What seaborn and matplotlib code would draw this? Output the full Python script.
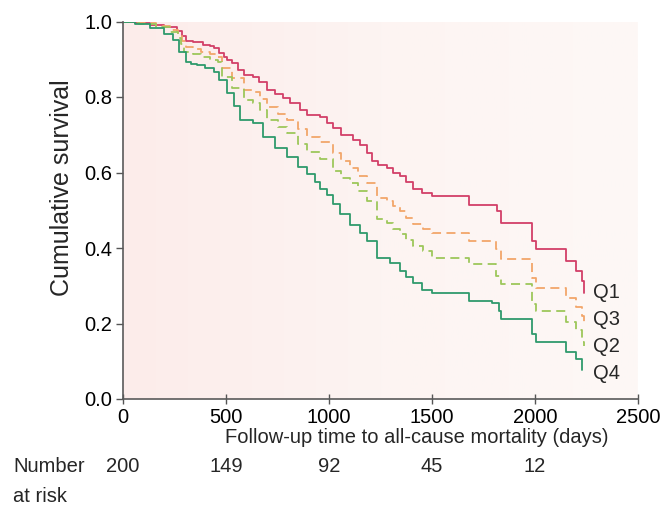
import numpy as np
import pandas as pd
import seaborn as sns
import matplotlib.pyplot as plt
import matplotlib.transforms as mtransforms
from matplotlib.colors import LinearSegmentedColormap

# Kaplan-Meier style curves (days, cumulative survival)
q1_days = [0, 60, 130, 200, 264, 285, 304, 340, 390, 420, 440, 464, 490, 507, 530, 560, 585, 633,
           660, 700, 740, 778, 810, 860, 894, 957, 990, 1019, 1060, 1116, 1150, 1184, 1208, 1240,
           1280, 1310, 1343, 1375, 1406, 1450, 1502, 1681, 1816, 1836, 1985, 2005, 2150, 2198,
           2227, 2237]
q1_surv = [1.0, 0.996, 0.99, 0.985, 0.974, 0.962, 0.948, 0.945, 0.938, 0.934, 0.93, 0.917, 0.905,
           0.899, 0.89, 0.872, 0.859, 0.853, 0.84, 0.819, 0.808, 0.797, 0.785, 0.765, 0.752, 0.747,
           0.73, 0.717, 0.70, 0.685, 0.672, 0.651, 0.63, 0.62, 0.613, 0.60, 0.592, 0.575, 0.557,
           0.545, 0.539, 0.515, 0.499, 0.467, 0.419, 0.397, 0.365, 0.339, 0.312, 0.28]

q3_days = [0, 80, 160, 230, 266, 285, 304, 340, 380, 420, 459, 483, 530, 585, 633, 665, 700, 750,
           797, 850, 894, 957, 1019, 1060, 1101, 1140, 1184, 1232, 1280, 1310, 1343, 1375, 1406,
           1454, 1502, 1681, 1811, 1836, 1985, 2005, 2150, 2198, 2227, 2237]
q3_surv = [1.0, 0.995, 0.988, 0.978, 0.965, 0.948, 0.933, 0.928, 0.92, 0.914, 0.907, 0.877, 0.85,
           0.819, 0.813, 0.795, 0.773, 0.755, 0.739, 0.715, 0.693, 0.68, 0.651, 0.63, 0.613, 0.59,
           0.573, 0.533, 0.525, 0.51, 0.499, 0.48, 0.464, 0.451, 0.44, 0.419, 0.397, 0.371, 0.32,
           0.293, 0.267, 0.245, 0.219, 0.205]

q2_days = [0, 80, 160, 230, 266, 280, 295, 340, 380, 420, 459, 483, 530, 585, 633, 665, 700, 750,
           797, 850, 894, 957, 1019, 1060, 1101, 1140, 1184, 1232, 1280, 1310, 1343, 1375, 1406,
           1454, 1502, 1681, 1811, 1836, 1985, 2005, 2150, 2198, 2227, 2237]
q2_surv = [1.0, 0.994, 0.985, 0.972, 0.957, 0.94, 0.92, 0.913, 0.905, 0.899, 0.893, 0.853, 0.825,
           0.792, 0.784, 0.765, 0.739, 0.72, 0.704, 0.675, 0.653, 0.637, 0.605, 0.585, 0.571, 0.55,
           0.525, 0.477, 0.467, 0.45, 0.437, 0.42, 0.405, 0.392, 0.373, 0.357, 0.325, 0.304, 0.251,
           0.232, 0.205, 0.184, 0.152, 0.14]

q4_days = [0, 60, 130, 200, 242, 271, 304, 330, 360, 400, 440, 464, 507, 540, 570, 633, 682, 740,
           797, 850, 894, 930, 957, 990, 1019, 1053, 1100, 1150, 1184, 1232, 1295, 1343, 1375, 1406,
           1450, 1502, 1681, 1792, 1826, 1836, 1985, 2005, 2150, 2198, 2227]
q4_surv = [1.0, 0.993, 0.982, 0.968, 0.952, 0.92, 0.893, 0.888, 0.884, 0.877, 0.867, 0.845, 0.811,
           0.775, 0.739, 0.731, 0.693, 0.665, 0.64, 0.615, 0.597, 0.575, 0.557, 0.54, 0.517, 0.491,
           0.46, 0.44, 0.419, 0.373, 0.36, 0.339, 0.322, 0.307, 0.29, 0.28, 0.259, 0.253, 0.232,
           0.213, 0.171, 0.152, 0.125, 0.107, 0.077]

groups = ["Q1", "Q3", "Q2", "Q4"]
label_y = [0.281, 0.21, 0.138, 0.068]

risk_days = [0, 500, 1000, 1500, 2000]
risk_counts = [200, 149, 92, 45, 12]

colors = {"Q1": "#d23f68", "Q3": "#f2a66a", "Q2": "#9dc75b", "Q4": "#2f9a6c"}
dashes = {"Q1": "", "Q3": (5, 3), "Q2": (5, 3), "Q4": ""}

frames = []
for g, d, s in zip(groups, [q1_days, q3_days, q2_days, q4_days],
                   [q1_surv, q3_surv, q2_surv, q4_surv]):
    frames.append(pd.DataFrame({"days": d, "surv": s, "group": g}))
df = pd.concat(frames, ignore_index=True)

sns.set_style("ticks")
plt.rcParams['font.family'] = ['Liberation Sans', 'DejaVu Sans']
fs = 14.5

fig = plt.figure(figsize=(6.63, 5.19), dpi=100)
ax = fig.add_axes([123 / 663, 1 - 399 / 519, 515 / 663, 377.5 / 519])

# soft pink panel, a bit stronger on the left
bg = LinearSegmentedColormap.from_list("bg", ["#fcecea", "#fdf4f2", "#fdf8f6"])
ax.imshow(np.linspace(0, 1, 256)[None, :], cmap=bg, aspect="auto",
          extent=[0, 2500, 0, 1.0], zorder=0)

sns.lineplot(data=df, x="days", y="surv", hue="group", style="group",
             palette=colors, dashes=dashes, estimator=None, drawstyle="steps-post",
             linewidth=1.3, legend=False, ax=ax)

for g, y in zip(groups, label_y):
    ax.text(2282, y, g, fontsize=fs, va="center", ha="left")

ax.set_xlim(0, 2500)
ax.set_ylim(0, 1.0)
ax.set_xticks([0, 500, 1000, 1500, 2000, 2500])
ax.set_yticks([0.0, 0.2, 0.4, 0.6, 0.8, 1.0])
ax.set_yticklabels(["0.0", "0.2", "0.4", "0.6", "0.8", "1.0"])
ax.tick_params(axis="both", labelsize=fs, colors="#555555", labelcolor="black", width=1)
ax.tick_params(axis="x", direction="inout", length=7, pad=3)
ax.tick_params(axis="y", direction="out", length=5, pad=3)
for side in ["top", "right"]:
    ax.spines[side].set_visible(False)
for side in ["left", "bottom"]:
    ax.spines[side].set_color("#5a5a5a")
    ax.spines[side].set_linewidth(1.2)

ax.set_xlabel("Follow-up time to all-cause mortality (days)", fontsize=fs)
ax.set_ylabel("Cumulative survival", fontsize=18)
ax.xaxis.label.set_va("center")
ax.yaxis.label.set_va("center")
ax.xaxis.set_label_coords(0.571, -0.102)
ax.yaxis.set_label_coords(-0.118, 0.56)

# number at risk row
trans = mtransforms.blended_transform_factory(ax.transData, fig.transFigure)
for d, n in zip(risk_days, risk_counts):
    ax.text(d, 1 - 467 / 519, str(n), transform=trans, fontsize=fs,
            ha="center", va="center", clip_on=False)
fig.text(13 / 663, 1 - 467 / 519, "Number", fontsize=fs, va="center", ha="left")
fig.text(13 / 663, 1 - 497 / 519, "at risk", fontsize=fs, va="center", ha="left")

fig.savefig("out.png", dpi=100)
